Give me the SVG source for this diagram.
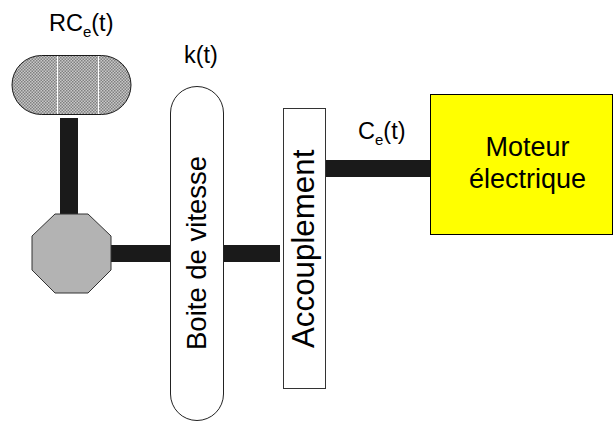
<svg xmlns="http://www.w3.org/2000/svg" width="613" height="421" viewBox="0 0 613 421">
<style>
text{font-family:"Liberation Sans",Arial,sans-serif;fill:#000}
.l{font-size:23.500px}
.s{font-size:15px}
.m{font-size:27px}
.o{stroke:#1a1a1a;stroke-width:1}
</style>
<defs>
<pattern id="h" width="3" height="3" patternUnits="userSpaceOnUse">
<rect width="3" height="3" fill="#c8c8c8"/>
<rect width="1.500" height="1.500" fill="#808080"/>
<rect x="1.500" y="1.500" width="1.500" height="1.500" fill="#808080"/>
</pattern>
</defs>
<rect width="613" height="421" fill="#fff"/>
<g id="connectors" fill="#1a1a1a">
<rect x="60" y="118" width="18" height="97"/>
<rect x="110" y="245" width="61" height="17"/>
<rect x="223" y="245" width="57" height="17"/>
<rect x="325" y="160" width="106" height="17"/>
</g>
<g id="volant">
<rect x="12" y="55.500" width="119" height="59" rx="29.500" fill="url(#h)" class="o"/>
<path d="M57.500 56V114M98.500 56V114" stroke="#fff" stroke-width="1" fill="none"/>
<text class="l" x="49" y="31">RC<tspan class="s" dy="6">e</tspan><tspan dy="-6">(t)</tspan></text>
</g>
<g id="differentiel">
<polygon points="55,214 88,214 111,236 111,270 88,293 55,293 32,270 32,236" fill="#b3b3b3" stroke="#333" stroke-width="1"/>
</g>
<g id="boite">
<rect x="170.500" y="86.500" width="53" height="334" rx="26.500" fill="#fff" stroke="#222"/>
<text transform="translate(206,350) rotate(-90)" style="font-size:27.500px">Boite de vitesse</text>
<text class="l" x="184" y="63">k(t)</text>
</g>
<g id="accouplement">
<rect x="283.500" y="108.500" width="42" height="280" fill="#fff" stroke="#333"/>
<text transform="translate(314,348) rotate(-90)" style="font-size:31.300px">Accouplement</text>
</g>
<g id="moteur">
<rect x="430.500" y="94.500" width="182" height="140" fill="#ff0" stroke="#000"/>
<text class="m" x="527.500" y="156" text-anchor="middle">Moteur</text>
<text class="m" x="527.500" y="188" text-anchor="middle">électrique</text>
</g>
<g id="couple">
<text class="l" x="358" y="139">C<tspan class="s" dy="6">e</tspan><tspan dy="-6">(t)</tspan></text>
</g>
</svg>
